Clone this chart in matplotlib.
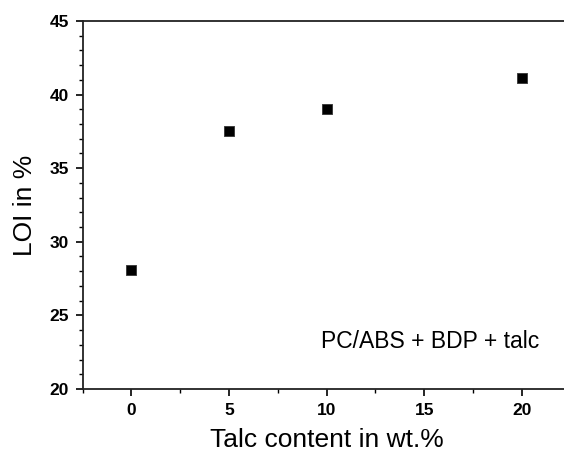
import numpy as np
import matplotlib.pyplot as plt
from matplotlib.ticker import MultipleLocator

# talc content (wt.%) and LOI (%)
talc = [0, 5, 10, 20]
loi = [28.1, 37.5, 39.0, 41.1]

xticks = [0, 5, 10, 15, 20]
yticks = [20, 25, 30, 35, 40, 45]

plt.rcParams['font.family'] = ['Liberation Sans', 'DejaVu Sans']

fig = plt.figure(figsize=(5.64, 4.58), dpi=100)
ax = fig.add_axes([0.1466, 0.1507, 0.865, 0.8035])

ax.scatter(talc, loi, marker='s', s=42, c='black', edgecolors='#333333', linewidths=0.6, zorder=3)

ax.set_xlim(-2.5, 22.5)
ax.set_ylim(20, 45)
ax.set_xticks(xticks)
ax.set_yticks(yticks)
ax.xaxis.set_minor_locator(MultipleLocator(2.5))
ax.yaxis.set_minor_locator(MultipleLocator(1))

ax.tick_params(axis='both', which='major', direction='out', length=5, width=1.2,
               labelsize=12.5, pad=5)
ax.tick_params(axis='both', which='minor', direction='out', length=3, width=1.0)
for lab in ax.get_xticklabels() + ax.get_yticklabels():
    lab.set_fontweight('bold')

for s in ['left', 'bottom', 'top']:
    ax.spines[s].set_linewidth(1.3)
    ax.spines[s].set_color('#222222')
ax.spines['right'].set_visible(False)

ax.set_xlabel("Talc content in wt.%", fontsize=19, labelpad=7)
ax.set_ylabel("LOI in %", fontsize=19, labelpad=9)

ax.text(0.936, 0.13, "PC/ABS + BDP + talc", transform=ax.transAxes,
        fontsize=16.5, ha='right', va='center')

fig.savefig("out.png", dpi=100)
